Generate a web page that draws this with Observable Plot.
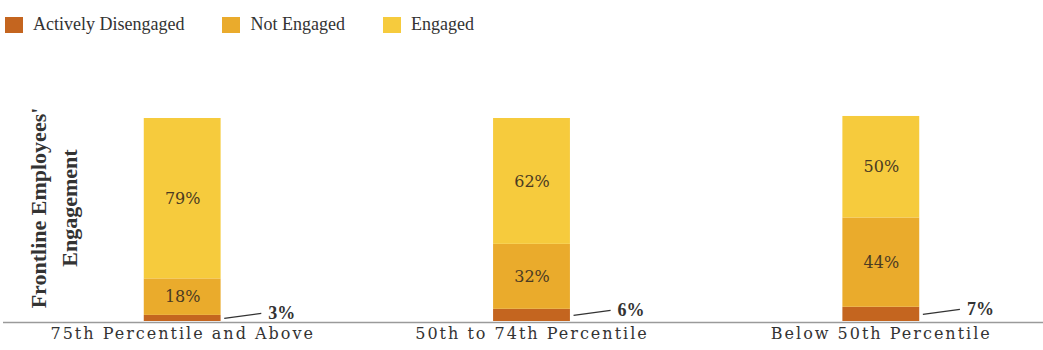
<!DOCTYPE html>
<html>
<head>
<meta charset="utf-8">
<script src="https://cdn.jsdelivr.net/npm/d3@7"></script>
<script src="https://cdn.jsdelivr.net/npm/@observablehq/plot@0.6"></script>
<style>
  html, body { margin: 0; padding: 0; background: #fff; }
  body { width: 1043px; height: 350px; overflow: hidden; font-family: "Liberation Serif", serif; }
  #legend { height: 42px; display: flex; align-items: flex-start; padding-left: 5px; box-sizing: border-box; }
  .item { display: flex; align-items: center; margin-right: 38px; margin-top: 14px; font-size: 18px; color: #333; }
  .sw { width: 18px; height: 16px; margin-right: 10px; }
  g[aria-label="x-axis tick label"] text { letter-spacing: 2px; font-family: "DejaVu Serif", serif; }
  .values text { letter-spacing: 2px; }
</style>
</head>
<body>
<div id="legend"></div>
<div id="chart"></div>
<script>
const categories = ["75th Percentile and Above", "50th to 74th Percentile", "Below 50th Percentile"];
const statuses = ["Actively Disengaged", "Not Engaged", "Engaged"];
const activelyDisengaged = [3, 6, 7];
const notEngaged = [18, 32, 44];
const engaged = [79, 62, 50];
const colors = ["#c4651f", "#eaab2c", "#f6cb3d"];
const yTitle = "Frontline Employees'\nEngagement";

const series = [activelyDisengaged, notEngaged, engaged];
const data = [];
categories.forEach((c, i) => {
  statuses.forEach((s, k) => data.push({i, category: c, status: s, value: series[k][i]}));
});
const active = data.filter(d => d.status === statuses[0]);

// legend
const legend = document.getElementById("legend");
statuses.forEach((s, k) => {
  const it = document.createElement("div");
  it.className = "item";
  it.innerHTML = `<span class="sw" style="background:${colors[k]}"></span><span>${s}</span>`;
  legend.appendChild(it);
});

const hw = 0.11; // half bar width in category units

const chart = Plot.plot({
  width: 1043,
  height: 308,
  marginLeft: 25,
  marginRight: 5,
  marginTop: 76,
  marginBottom: 29,
  style: {fontFamily: "Liberation Serif, serif", fontSize: "18px", color: "#333", background: "transparent"},
  x: {domain: [-0.45, 2.45], axis: null},
  y: {domain: [0, 100], axis: null},
  color: {domain: statuses, range: colors},
  marks: [
    Plot.rect(data, Plot.stackY({x1: d => d.i - hw, x2: d => d.i + hw, y: "value", fill: "status"})),
    Plot.text(data, {
      ...Plot.stackY({x: "i", y: "value", text: d => d.status === statuses[0] ? null : d.value + "%"}),
      ariaLabel: "values", fill: "#4a3a22", fontSize: 16, fontFamily: "DejaVu Serif"
    }),
    Plot.link(active, {
      x1: d => d.i + hw + 0.009, x2: d => d.i + hw + 0.115,
      y1: d => d.value / 2, y2: d => d.value / 2 + 2.5,
      stroke: "#333", strokeWidth: 1.3
    }),
    Plot.text(active, {
      x: d => d.i + hw + 0.135, y: d => d.value / 2 + 2.5,
      text: d => d.value + "%", textAnchor: "start",
      fontWeight: "bold", fontSize: 18, fill: "#333"
    }),
    Plot.ruleY([0], {stroke: "#9a9a9a", strokeWidth: 1.5, insetLeft: -22, insetRight: -5, dy: 1}),
    Plot.axisX([0, 1, 2], {tickFormat: i => categories[i], tickSize: 0, tickPadding: 6, fontSize: 16, label: null, color: "#333"}),
    Plot.text([yTitle], {
      frameAnchor: "left", rotate: -90, dx: 26, dy: -12,
      textAnchor: "middle", lineAnchor: "middle", lineHeight: 1.4,
      fontWeight: "bold", fontSize: 22, fill: "#333"
    })
  ]
});
d3.select(chart).selectAll('g[aria-label="values"]').classed("values", true);
document.getElementById("chart").appendChild(chart);
</script>
</body>
</html>
